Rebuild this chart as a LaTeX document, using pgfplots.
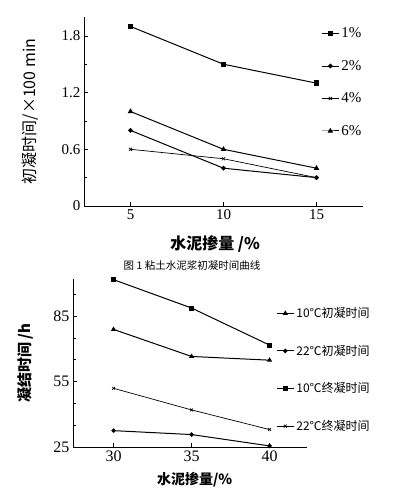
\documentclass[border=0pt]{standalone}
\usepackage{fontspec}
\setmainfont{Liberation Serif}
\newfontfamily\cjk{Noto Sans CJK SC}
\usepackage{pgfplots}
\pgfplotsset{compat=1.18}
\begin{document}
\begin{tikzpicture}
\useasboundingbox (0pt,0pt) rectangle (392pt,-494pt);
\fill[white] (0pt,0pt) rectangle (392pt,-494pt);
\begin{axis}[
  at={(84pt,-206pt)}, anchor=south west, scale only axis,
  width=279pt, height=189pt,
  xmin=2.5, xmax=17.5, ymin=0, ymax=2,
  axis lines=left, axis line style={-, line width=0.8pt},
  xtick={5,10,15}, ytick={0,0.6,1.2,1.8}, minor ytick={0.3,0.9,1.5},
  tick align=inside, major tick length=4pt, minor tick length=3pt,
  tick style={black, line width=0.6pt},
  ticklabel style={font=\fontsize{15}{15}\selectfont},
  /pgf/number format/assume math mode=true,
  /pgf/number format/fixed,
  xlabel={\cjk\bfseries 水泥掺量 /\%},
  x label style={at={(axis description cs:0.47,-0.201)}, anchor=center, font=\fontsize{16}{16}\selectfont},
  ylabel={\cjk 初凝时间/×100 min},
  y label style={at={(axis description cs:-0.194,0.5)}, anchor=center, font=\fontsize{16}{16}\selectfont},
  legend style={draw=none, fill=none, at={(axis description cs:0.839,0.965)}, anchor=north west,
    row sep=17pt, font=\fontsize{15}{15}\selectfont},
  legend cell align=left,
  every axis plot/.append style={black, line width=1pt},
]
\addplot[mark=square*, mark size=2.2pt] coordinates {(5,1.9) (10,1.5) (15,1.3)};
\addlegendentry{1\%}
\addplot[mark=*, mark size=1.8pt] coordinates {(5,0.8) (10,0.4) (15,0.3)};
\addlegendentry{2\%}
\addplot[mark=x, mark size=2.2pt, line width=0.7pt] coordinates {(5,0.6) (10,0.5) (15,0.3)};
\addlegendentry{4\%}
\addplot[mark=triangle*, mark size=2.2pt] coordinates {(5,1.0) (10,0.6) (15,0.4)};
\addlegendentry{6\%}
\end{axis}
\node[font=\cjk\fontsize{10.5}{10.5}\selectfont] at (192pt,-265pt) {图 1 粘土水泥浆初凝时间曲线};
\begin{axis}[
  at={(73pt,-447pt)}, anchor=south west, scale only axis,
  width=234pt, height=168pt,
  xmin=27.4, xmax=42.4, ymin=25, ymax=102,
  axis lines=left, axis line style={-, line width=0.8pt},
  xtick={30,35,40}, ytick={25,55,85}, minor ytick={35,45,65,75,95},
  tick align=inside, major tick length=4pt, minor tick length=3pt,
  tick style={black, line width=0.6pt},
  ticklabel style={font=\fontsize{16}{16}\selectfont},
  /pgf/number format/assume math mode=true,
  xlabel={\cjk\bfseries 水泥掺量/\%},
  x label style={at={(axis description cs:0.52,-0.196)}, anchor=center, font=\fontsize{14}{14}\selectfont},
  ylabel={\cjk\bfseries 凝结时间 /h},
  y label style={at={(axis description cs:-0.205,0.5)}, anchor=center, font=\fontsize{15}{15}\selectfont},
  legend style={draw=none, fill=none, at={(axis description cs:0.855,0.855)}, anchor=north west,
    row sep=22pt, font=\cjk\fontsize{12}{12}\selectfont},
  legend cell align=left,
  every axis plot/.append style={black, line width=1pt},
]
\addplot[mark=triangle*, mark size=2pt] coordinates {(30,78.9) (35,66.5) (40,64.8)};
\addlegendentry{10℃初凝时间}
\addplot[mark=*, mark size=1.7pt] coordinates {(30,32.5) (35,30.7) (40,25.5)};
\addlegendentry{22℃初凝时间}
\addplot[mark=square*, mark size=2pt] coordinates {(30,101.7) (35,88.7) (40,71.7)};
\addlegendentry{10℃终凝时间}
\addplot[mark=x, mark size=2pt, line width=0.7pt] coordinates {(30,51.9) (35,42) (40,33)};
\addlegendentry{22℃终凝时间}
\end{axis}
\end{tikzpicture}
\end{document}
